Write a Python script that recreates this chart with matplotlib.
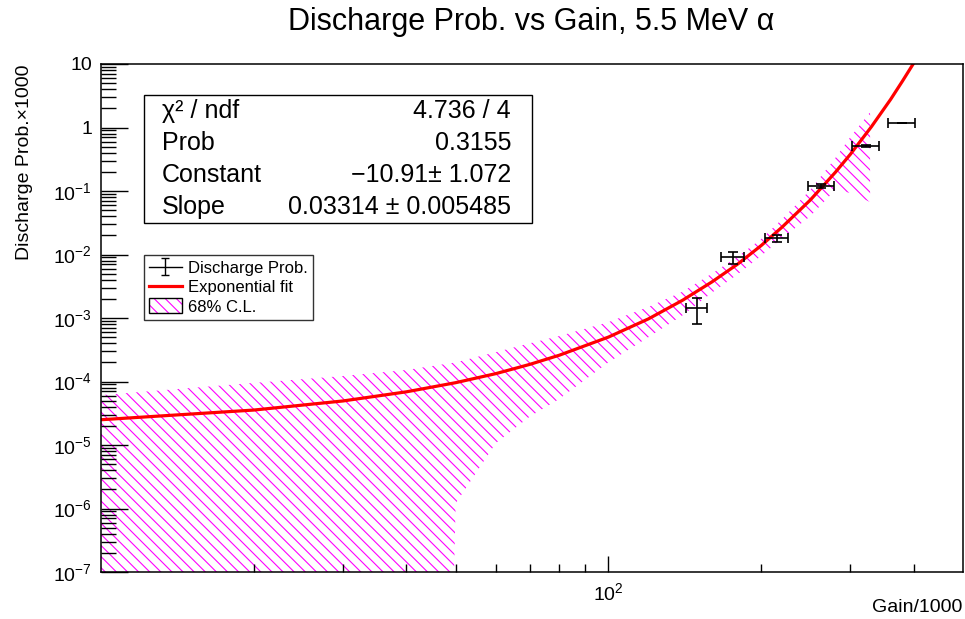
#!/usr/bin/env python3
"""
discharge probability vs gain, 5.5 MeV alpha
 - data points with x/y errors, exponential fit and its 68% band
"""
import numpy as np
import matplotlib
matplotlib.use('Agg')
from matplotlib import pyplot as plt
from matplotlib.patches import Patch, Rectangle
from matplotlib.legend_handler import HandlerTuple
from matplotlib.ticker import FixedLocator, FuncFormatter, NullFormatter

# measured points (gain/1000 vs discharge prob x1000)
gain = [149.5, 176, 215, 263, 322, 379]
gain_err = [7, 9.3, 11, 15, 19.5, 24]
prob = [1.45e-3, 9.0e-3, 1.8e-2, 0.121, 0.51, 1.16]
prob_err = [6.5e-4, 1.8e-3, 2.0e-3, 8e-3, 2e-2, 0.0]

# fit curve
fit_gain = [10, 20, 30, 40, 50, 60, 70, 80, 100, 120, 140, 160, 180,
            200, 220, 250, 280, 300, 330, 360, 380, 400, 410]
fit_prob = [2.5e-5, 3.55e-5, 4.94e-5, 6.88e-5, 9.58e-5, 1.33e-4, 1.86e-4,
            2.59e-4, 5.0e-4, 9.7e-4, 1.9e-3, 3.7e-3, 7.1e-3, 1.38e-2,
            2.7e-2, 7.2e-2, 0.196, 0.38, 1.03, 2.77, 5.4, 10.4, 14.5]

# 68% C.L. band edges (1e-9 means it runs off the bottom)
band_gain = [10, 20, 30, 40, 49, 50, 60, 70, 80, 100, 120, 140, 160, 180,
             200, 220, 250, 280, 300, 328]
band_hi = [6.1e-5, 9.5e-5, 1.22e-4, 1.52e-4, 1.95e-4, 2.0e-4, 2.9e-4, 4.0e-4,
           5.2e-4, 8.6e-4, 1.5e-3, 2.6e-3, 5.0e-3, 9.3e-3, 1.75e-2, 3.6e-2,
           0.104, 0.33, 0.71, 1.75]
band_lo = [1e-9, 1e-9, 1e-9, 1e-9, 1e-9, 1.2e-6, 1.07e-5, 2.8e-5, 5.3e-5,
           2.0e-4, 5.0e-4, 1.1e-3, 2.5e-3, 4.9e-3, 9.5e-3, 1.8e-2, 4.0e-2,
           0.104, 0.093, 0.067]

# fit statistics box
stat_names = ['χ² / ndf', 'Prob', 'Constant', 'Slope']
stat_values = ['4.736 / 4', '0.3155', '−10.91± 1.072', '0.03314 ± 0.005485']

# axis ticks
y_major = [1e-7, 1e-6, 1e-5, 1e-4, 1e-3, 1e-2, 1e-1, 1, 10]
x_minor = [20, 30, 40, 50, 60, 70, 80, 90, 200, 300, 400]

W, H = 965, 619
HATCH = '\\\\\\'


def ylab(v, pos):
    """ROOT style log labels"""
    if np.isclose(v, 10):
        return '10'
    if np.isclose(v, 1):
        return '1'
    return r'$10^{%d}$' % int(round(np.log10(v)))


def run():
    plt.rcParams['font.family'] = ['Liberation Sans', 'DejaVu Sans']
    plt.rcParams['mathtext.fontset'] = 'custom'
    plt.rcParams['mathtext.rm'] = 'Liberation Sans'
    plt.rcParams['mathtext.it'] = 'Liberation Sans:italic'
    plt.rcParams['hatch.linewidth'] = 0.8

    fig = plt.figure(figsize=(W / 100, H / 100), dpi=100)
    ax = fig.add_axes([101 / W, 1 - 572 / H, 862 / W, 508 / H])
    ax.set_xscale('log')
    ax.set_yscale('log')
    ax.set_xlim(10, 500)
    ax.set_ylim(1e-7, 10)

    # band first, then the fit and the points on top
    ax.fill_between(band_gain, band_lo, band_hi, facecolor='none',
                    edgecolor='#ff00ff', hatch=HATCH, linewidth=0)
    fit_line, = ax.plot(fit_gain, fit_prob, color='red', lw=2.3)
    ax.errorbar(gain, prob, xerr=gain_err, yerr=prob_err, fmt='none',
                ecolor='black', elinewidth=1.2, capsize=3.5, capthick=1.2)

    # ticks, ROOT style (inside, left/bottom only)
    ax.yaxis.set_major_locator(FixedLocator(y_major))
    ax.yaxis.set_major_formatter(FuncFormatter(ylab))
    ax.yaxis.set_minor_formatter(NullFormatter())
    ax.xaxis.set_major_locator(FixedLocator([100]))
    ax.xaxis.set_major_formatter(FuncFormatter(lambda v, p: r'$10^{2}$'))
    ax.xaxis.set_minor_locator(FixedLocator(x_minor))
    ax.xaxis.set_minor_formatter(NullFormatter())
    ax.tick_params(which='both', direction='in', right=False, top=False,
                   width=1.0, labelsize=14)
    ax.tick_params(axis='y', which='major', length=19.5, pad=6.5)
    ax.tick_params(axis='y', which='minor', length=10.5)
    ax.tick_params(axis='x', which='major', length=11.5, pad=7)
    ax.tick_params(axis='x', which='minor', length=5.5)
    for sp in ax.spines.values():
        sp.set_linewidth(1.1)

    # titles
    fig.text(531 / W, 1 - 22 / H, 'Discharge Prob. vs Gain, 5.5 MeV α',
             ha='center', va='center', fontsize=22)
    fig.text(25 / W, 1 - 64 / H, 'Discharge Prob.×1000', rotation=90,
             ha='center', va='top', fontsize=14)
    fig.text(962 / W, 1 - 607 / H, 'Gain/1000', ha='right', va='center',
             fontsize=14)

    # stats box
    fig.patches.append(Rectangle((144 / W, 1 - 223 / H), 388 / W, 128 / H,
                                 transform=fig.transFigure, facecolor='white',
                                 edgecolor='black', lw=1.0, zorder=5))
    for i, (name, val) in enumerate(zip(stat_names, stat_values)):
        yy = 1 - (111 + 32 * i) / H
        fig.text(162 / W, yy, name, ha='left', va='center', fontsize=18,
                 zorder=6)
        fig.text(511 / W, yy, val, ha='right', va='center', fontsize=18,
                 zorder=6)

    # legend, with proxies that look like the ROOT ones
    eb_proxy = ax.errorbar([np.nan], [np.nan], yerr=[1.0], fmt='-',
                           color='black', lw=1.0, elinewidth=1.0, capsize=3)
    hatch_patch = Patch(facecolor='white', edgecolor='#ff00ff',
                        hatch=HATCH, lw=0)
    box_patch = Patch(facecolor='none', edgecolor='black', lw=1.0)
    leg = fig.legend([eb_proxy, fit_line, (hatch_patch, box_patch)],
                     ['Discharge Prob.', 'Exponential fit', '68% C.L.'],
                     loc='upper left', bbox_to_anchor=(144 / W, 1 - 255 / H),
                     frameon=True, fancybox=False, fontsize=12,
                     handlelength=1.95, handleheight=1.0, borderpad=0.3,
                     labelspacing=0.18, handletextpad=0.4, borderaxespad=0,
                     handler_map={tuple: HandlerTuple(ndivide=1)})
    leg.get_frame().set_edgecolor('black')
    leg.get_frame().set_linewidth(1.0)

    print('saving out.png')
    fig.savefig('out.png', dpi=100)


if __name__ == '__main__':
    run()
